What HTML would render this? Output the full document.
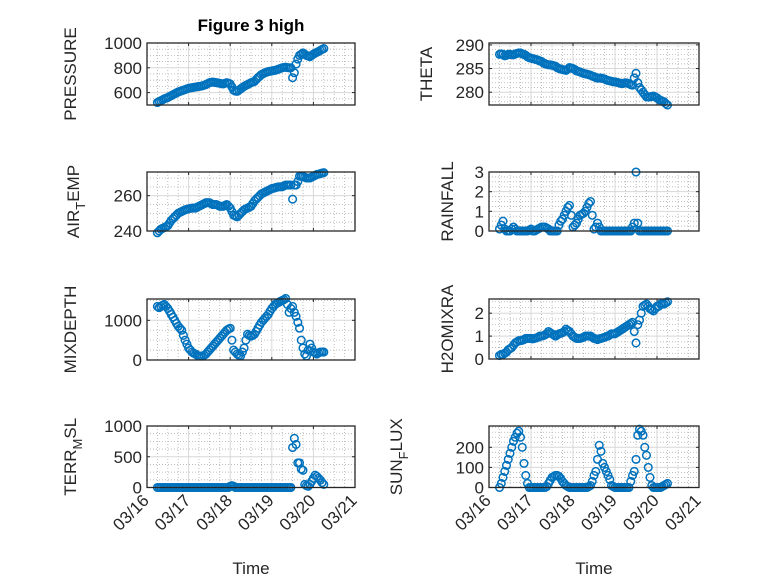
<!DOCTYPE html>
<html><head><meta charset="utf-8"><style>
body{margin:0;background:#fff}
svg{display:block;font-family:"Liberation Sans",sans-serif}
</style></head><body>
<svg id="fig" width="778" height="583" viewBox="0 0 778 583">
<rect width="778" height="583" fill="#fff"/>
<text x="251" y="31" font-size="17" font-weight="bold" text-anchor="middle" fill="#000">Figure 3 high</text>
</svg>
<script>
const hours = [6,7,8,9,10,11,12,13,14,15,16,17,18,19,20,21,22,23,24,25,26,27,28,29,30,31,32,33,34,35,36,37,38,39,40,41,42,43,44,45,46,47,48,49,50,51,52,53,54,55,56,57,58,59,60,61,62,63,64,65,66,67,68,69,70,71,72,73,74,75,76,77,78,79,80,81,82,83,84,85,86,87,88,89,90,91,92,93,94,95,96,97,98,99,100,101,102];
const xTickLabels = ["03/16","03/17","03/18","03/19","03/20","03/21"];
const pressure = [520,528,535,542,550,555,560,568,575,583,590,598,605,610,615,620,625,630,635,638,640,643,645,648,650,652,655,660,665,672,680,683,685,682,680,678,675,672,670,675,680,676,670,645,620,612,610,620,630,640,650,658,665,672,680,685,690,705,720,732,745,752,760,765,770,772,775,778,780,785,790,795,800,803,805,802,800,800,720,760,830,870,900,910,920,910,900,895,890,900,910,918,925,932,940,948,955];
const airTemp = [239,240,241,241.5,242,242.5,243,244.5,246,247,248,249,250,250.5,251,251.5,252,252.3,252.5,252.8,253,253,253,253.5,254,254.5,255,255.5,256,256,256,255.5,255,255,255,254.5,254,254,254,254.5,255,254,253,251,249,248.5,248,249,250,251,252,252.5,253,253.5,254,255.5,257,258,259,260,261,261.5,262,262.5,263,263.5,264,264.2,264.5,264.8,265,265,265,265.5,266,266,266,266,258,266,266,268,271,271,271,270.5,270,270,270,270.5,271,271.5,272,272.2,272.5,272.8,273];
const theta = [288,288.1,288,287.7,287.8,288,288,287.9,287.9,288.1,288.2,288.3,288.3,288.1,288,287.8,287.5,287.3,287.2,287.1,287,286.9,286.8,286.6,286.5,286.2,286,285.9,285.8,285.8,285.7,285.6,285.5,285.2,285,284.9,284.8,284.7,284.6,284.9,285.2,285.1,285,284.8,284.5,284.4,284.3,284.1,284,283.9,283.8,283.7,283.6,283.4,283.3,283.1,283,283,283,282.9,282.8,282.6,282.5,282.4,282.3,282.2,282.2,282.1,282,281.9,281.8,281.9,282,281.9,281.8,281.6,281.5,283,284,282,281,280.5,280,279.5,279,279,279,279.1,279.2,279,278.8,278.5,278.3,278.1,278,277.6,277.3];
const rainfall = [0.1,0.3,0.5,0.1,0,0,0,0.1,0.2,0.1,0,0,0,0,0,0,0,0.05,0.1,0,0,0.05,0.1,0.15,0.2,0.2,0.2,0.15,0.1,0,0,0,0,0,0.3,0.5,0.6,0.8,1.0,1.2,1.3,0.8,0.2,0.3,0.4,0.6,0.8,0.85,0.9,1.0,1.2,1.4,1.5,0.8,0.1,0.2,0.4,0.2,0,0,0,0,0,0,0,0,0,0,0,0,0,0,0,0,0,0,0.2,0.4,3,0.4,0,0,0,0,0,0,0,0,0,0,0,0,0,0,0,0,0];
const mixDepth = [1350,1320,1350,1380,1400,1350,1300,1230,1150,1080,1000,920,850,800,750,620,500,400,300,250,200,170,150,120,100,100,100,120,150,200,250,300,350,400,450,500,550,600,650,700,750,780,800,500,250,200,150,120,100,200,300,500,650,620,600,620,650,720,800,880,950,1000,1050,1100,1150,1230,1300,1350,1400,1430,1450,1480,1500,1520,1550,1400,1200,1300,1350,1200,1100,950,800,500,300,150,100,250,400,300,200,180,150,180,200,200,200];
const h2oMix = [0.15,0.2,0.2,0.25,0.3,0.4,0.45,0.5,0.6,0.7,0.75,0.8,0.8,0.82,0.85,0.9,0.9,0.9,0.9,0.88,0.9,0.92,0.95,1.0,1.0,1.02,1.05,1.1,1.2,1.15,1.1,1.05,1.0,1.05,1.1,1.12,1.15,1.2,1.3,1.25,1.2,1.1,1.0,0.95,0.9,0.9,0.9,0.92,0.95,1.0,1.0,1.0,1.0,0.95,0.9,0.88,0.85,0.88,0.9,0.92,0.95,0.98,1.0,1.05,1.1,1.1,1.1,1.15,1.2,1.25,1.3,1.35,1.4,1.45,1.5,1.55,1.6,1.2,0.7,1.5,1.7,2.0,2.3,2.35,2.4,2.3,2.2,2.15,2.1,2.2,2.3,2.3,2.4,2.4,2.4,2.45,2.5];
const terrMsl = [0,0,0,0,0,0,0,0,0,0,0,0,0,0,0,0,0,0,0,0,0,0,0,0,0,0,0,0,0,0,0,0,0,0,0,0,0,0,0,0,0,0,20,30,20,0,0,0,0,0,0,0,0,0,0,0,0,0,0,0,0,0,0,0,0,0,0,0,0,0,0,0,0,0,0,0,0,0,650,800,700,400,400,300,280,50,30,20,50,100,150,200,180,150,120,80,50];
const sunFlux = [0,20,50,80,110,140,170,200,230,250,270,280,250,200,120,60,20,0,0,0,0,0,0,0,0,0,0,5,20,35,50,55,60,60,55,45,30,20,10,5,0,0,0,0,0,0,0,0,0,0,0,5,10,30,60,80,140,210,180,120,100,80,60,40,10,5,0,0,0,0,0,0,0,0,0,30,60,80,140,260,290,280,260,200,160,100,50,10,0,0,0,0,0,5,10,15,20];

const NS = "http://www.w3.org/2000/svg";
const svg = document.getElementById("fig");
function mk(tag, attrs, parent){const e=document.createElementNS(NS,tag);for(const k in attrs)e.setAttribute(k,attrs[k]);(parent||svg).appendChild(e);return e;}

const axesDefs = [
 {name:"pressure",data:pressure,x0:147,w:208,y0:43,y1:105,ymin:500,ymax:1000,yt:[600,800,1000],ym:50,lab:["PRESSURE"],lx:76,bottom:false},
 {name:"theta",data:theta,x0:489,w:210,y0:43,y1:105,ymin:277.3,ymax:290.4,yt:[280,285,290],ym:1,lab:["THETA"],lx:432,bottom:false},
 {name:"air-temp",data:airTemp,x0:147,w:208,y0:172,y1:231,ymin:240,ymax:273.4,yt:[240,260],ym:5,lab:["AIR","T","EMP"],lx:79,bottom:false},
 {name:"rainfall",data:rainfall,x0:489,w:210,y0:172,y1:231,ymin:0,ymax:3,yt:[0,1,2,3],ym:0.25,lab:["RAINFALL"],lx:453,bottom:false},
 {name:"mixdepth",data:mixDepth,x0:147,w:208,y0:299,y1:360,ymin:0,ymax:1537,yt:[0,1000],ym:250,lab:["MIXDEPTH"],lx:76,bottom:false},
 {name:"h2o-mix-ratio",data:h2oMix,x0:489,w:210,y0:299,y1:359,ymin:0,ymax:2.62,yt:[0,1,2],ym:0.25,lab:["H2OMIXRA"],lx:453,bottom:false},
 {name:"terr-msl",data:terrMsl,x0:147,w:208,y0:426,y1:487.5,ymin:0,ymax:1000,yt:[0,500,1000],ym:125,lab:["TERR","M","SL"],lx:76,bottom:true},
 {name:"sun-flux",data:sunFlux,x0:489,w:210,y0:426,y1:487.5,ymin:0,ymax:306,yt:[0,100,200],ym:25,lab:["SUN","F","LUX"],lx:402,bottom:true}
];

axesDefs.forEach(a=>{
 const g = mk("g",{});
 
 
 const X = d => a.x0 + d/5*a.w;
 const Y = v => a.y1 - (v-a.ymin)/(a.ymax-a.ymin)*(a.y1-a.y0);
 mk("rect",{x:a.x0,y:a.y0,width:a.w,height:a.y1-a.y0,fill:"#fff"},g);
 for(let d=0.25; d<5; d+=0.25){ if(Math.abs(d-Math.round(d))<1e-6) continue;
  mk("line",{x1:X(d),x2:X(d),y1:a.y0,y2:a.y1,stroke:"#b0b0b0","stroke-width":0.8,"stroke-dasharray":"1,2"},g);}
 for(let v=Math.ceil(a.ymin/a.ym)*a.ym; v<a.ymax; v+=a.ym){
  if(a.yt.some(t=>Math.abs(t-v)<1e-6)) continue;
  mk("line",{x1:a.x0,x2:a.x0+a.w,y1:Y(v),y2:Y(v),stroke:"#b0b0b0","stroke-width":0.8,"stroke-dasharray":"1,2"},g);}
 for(let d=1; d<5; d++) mk("line",{x1:X(d),x2:X(d),y1:a.y0,y2:a.y1,stroke:"#d8d8d8","stroke-width":1},g);
 a.yt.forEach(v=>mk("line",{x1:a.x0,x2:a.x0+a.w,y1:Y(v),y2:Y(v),stroke:"#d8d8d8","stroke-width":1},g));
 for(let d=0; d<=5; d++){
  mk("line",{x1:X(d),x2:X(d),y1:a.y1,y2:a.y1-3,stroke:"#262626","stroke-width":1},g);
  mk("line",{x1:X(d),x2:X(d),y1:a.y0,y2:a.y0+3,stroke:"#262626","stroke-width":1},g);
 }
 a.yt.forEach(v=>{
  mk("line",{x1:a.x0,x2:a.x0+3,y1:Y(v),y2:Y(v),stroke:"#262626","stroke-width":1},g);
  mk("line",{x1:a.x0+a.w,x2:a.x0+a.w-3,y1:Y(v),y2:Y(v),stroke:"#262626","stroke-width":1},g);
  const t = mk("text",{x:a.x0-5,y:Y(v)+6,"font-size":17,"text-anchor":"end",fill:"#262626"},g);
  
  
  t.textContent = v;
 });
 a.data.forEach((v,i)=>{
  const c = mk("circle",{cx:X(hours[i]/24),cy:Y(v),r:3.8,fill:"none",stroke:"#0072BD","stroke-width":1.5},g);
  
  
 });
 mk("rect",{x:a.x0,y:a.y0,width:a.w,height:a.y1-a.y0,fill:"none",stroke:"#262626","stroke-width":1.3},g);
 const cy=(a.y0+a.y1)/2;
 const yl = mk("text",{x:a.lx,y:cy,"font-size":17,"text-anchor":"middle",fill:"#262626",transform:`rotate(-90 ${a.lx} ${cy})`},g);
 
 
 if(a.lab.length===1) yl.textContent=a.lab[0];
 else {
  const s1=mk("tspan",{},yl); s1.textContent=a.lab[0];
  const s2=mk("tspan",{dy:6,"font-size":13},yl); s2.textContent=a.lab[1];
  const s3=mk("tspan",{dy:-6},yl); s3.textContent=a.lab[2];
 }
 if(a.bottom){
  xTickLabels.forEach((lbl,d)=>{
   const tx=X(d)+3, ty=a.y1+14;
   const t=mk("text",{x:tx,y:ty,"font-size":17,"text-anchor":"end",fill:"#262626",transform:`rotate(-45 ${tx} ${ty})`},g);
   
   
   t.textContent=lbl;
  });
  const xt=mk("text",{x:a.x0+a.w/2,y:574,"font-size":17,"text-anchor":"middle",fill:"#262626"},g);
  
  
  xt.textContent="Time";
 }
});
</script>
</body></html>
